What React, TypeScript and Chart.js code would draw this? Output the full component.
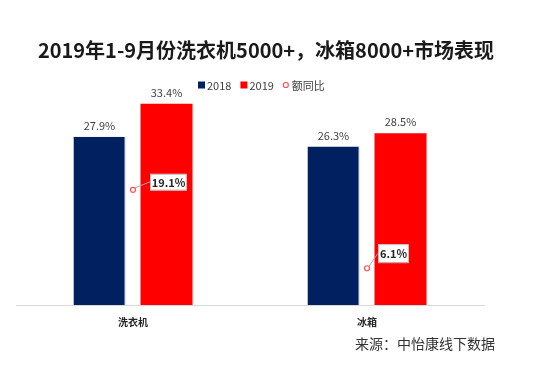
import React, { useEffect, useRef } from "react";
import { Chart, registerables } from "chart.js";

Chart.register(...registerables);

const TITLE = "2019年1-9月份洗衣机5000+，冰箱8000+市场表现";
const SOURCE = "来源：中怡康线下数据";
const categories = ["洗衣机", "冰箱"];
const series2018 = [27.9, 26.3];
const series2019 = [33.4, 28.5];
const yoy = [19.1, 6.1];
const seriesNames = ["2018", "2019", "额同比"];
const colors = ["#002060", "#ff0000", "#ff5050"];

const FONT = "'Noto Sans CJK SC', 'Microsoft YaHei', sans-serif";

const labelPlugin = {
  id: "customLabels",
  afterDraw(chart: any) {
    const ctx = chart.ctx;
    ctx.save();
    // title
    ctx.fillStyle = "#1a1a1a";
    ctx.font = `bold 20px ${FONT}`;
    ctx.textAlign = "center";
    ctx.textBaseline = "middle";
    ctx.fillText(TITLE, 266, 50);

    // legend
    ctx.font = `11px ${FONT}`;
    ctx.textAlign = "left";
    let lx = 198;
    const ly = 85;
    seriesNames.forEach((name, i) => {
      if (i < 2) {
        ctx.fillStyle = colors[i];
        ctx.fillRect(lx, ly - 3.5, 7, 7);
      } else {
        ctx.strokeStyle = colors[i];
        ctx.fillStyle = "#ffffff";
        ctx.lineWidth = 1.2;
        ctx.beginPath();
        ctx.arc(lx + 3, ly, 2.5, 0, Math.PI * 2);
        ctx.fill();
        ctx.stroke();
      }
      ctx.fillStyle = "#404040";
      ctx.fillText(name, lx + 9, ly + 0.5);
      lx += 9 + ctx.measureText(name).width + 9;
    });

    // bar labels
    ctx.textAlign = "center";
    ctx.font = `11px ${FONT}`;
    ctx.fillStyle = "#404040";
    [0, 1].forEach((di) => {
      const meta = chart.getDatasetMeta(di);
      meta.data.forEach((bar: any, i: number) => {
        const v = chart.data.datasets[di].data[i];
        ctx.fillText(v.toFixed(1) + "%", bar.x, bar.y - 11);
      });
    });
    // line labels
    const offs = [
      { dx: 17, dy: -16, w: 36, h: 16 },
      { dx: 11, dy: -24, w: 30, h: 18 },
    ];
    const lm = chart.getDatasetMeta(2);
    lm.data.forEach((pt: any, i: number) => {
      const o = offs[i];
      const bx = pt.x + o.dx;
      const by = pt.y + o.dy;
      ctx.strokeStyle = "#a6a6a6";
      ctx.lineWidth = 1;
      ctx.beginPath();
      ctx.moveTo(pt.x + 2, pt.y - 2);
      ctx.lineTo(bx, by + o.h / 2);
      ctx.stroke();
      ctx.fillStyle = "#ffffff";
      ctx.fillRect(bx, by, o.w, o.h);
      ctx.strokeStyle = "#bfbfbf";
      ctx.strokeRect(bx + 0.5, by + 0.5, o.w, o.h);
      ctx.fillStyle = "#262626";
      ctx.font = `bold 11px ${FONT}`;
      ctx.fillText(yoy[i].toFixed(1) + "%", bx + o.w / 2 + 0.5, by + o.h / 2 + 1);
    });
    // source
    ctx.font = `14px ${FONT}`;
    ctx.fillStyle = "#333333";
    ctx.textAlign = "right";
    ctx.fillText(SOURCE, 495, 344);
    ctx.restore();
  },
};

export default function App() {
  const ref = useRef<HTMLCanvasElement>(null);
  useEffect(() => {
    if (!ref.current) return;
    const chart = new Chart(ref.current, {
      type: "bar",
      data: {
        labels: categories,
        datasets: [
          {
            label: seriesNames[0],
            data: series2018,
            backgroundColor: colors[0],
            borderColor: "#8ea0c8",
            borderWidth: { right: 1 } as any,
            categoryPercentage: 0.573,
            barPercentage: 0.776,
            order: 2,
          },
          {
            label: seriesNames[1],
            data: series2019,
            backgroundColor: colors[1],
            categoryPercentage: 0.573,
            barPercentage: 0.776,
            order: 2,
          },
          {
            type: "line",
            label: seriesNames[2],
            data: yoy,
            showLine: false,
            pointStyle: "circle",
            pointRadius: 2.5,
            pointBorderWidth: 1.2,
            pointBorderColor: colors[2],
            pointBackgroundColor: "#ffffff",
            borderColor: colors[2],
            backgroundColor: "#ffffff",
            order: 1,
          } as any,
        ],
      },
      options: {
        responsive: false,
        animation: false,
        layout: { padding: { left: 16, right: 66, top: 94, bottom: 50 } },
        plugins: {
          title: { display: false },
          tooltip: { enabled: false },
          legend: { display: false },
        },
        scales: {
          x: {
            grid: { display: false },
            border: { display: true, color: "#d9d9d9" },
            ticks: {
              color: "#262626",
              font: { family: FONT, size: 10, weight: "bold" },
              padding: 3,
            },
          },
          y: {
            display: false,
            min: 0,
            max: 35,
          },
        },
      },
      plugins: [labelPlugin],
    });
    return () => chart.destroy();
  }, []);
  return (
    <div style={{ position: "fixed", left: 0, top: 0, width: 550, height: 381, background: "#fff" }}>
      <canvas ref={ref} width={550} height={381} />
    </div>
  );
}
